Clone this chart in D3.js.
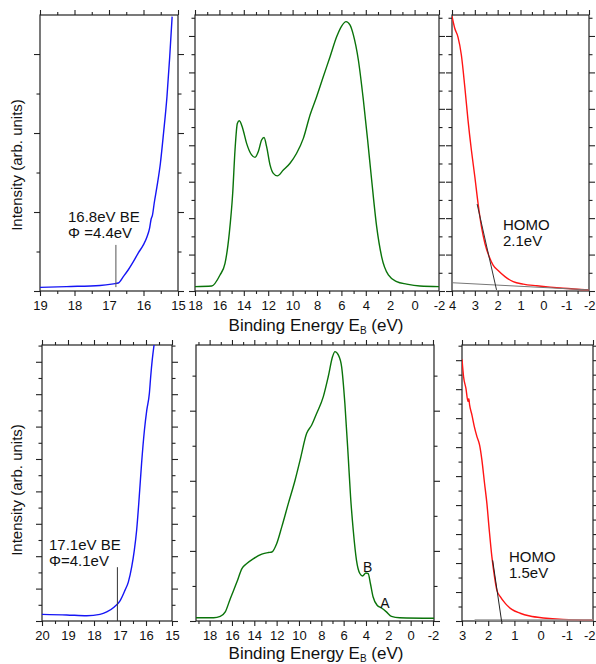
<!DOCTYPE html>
<html>
<head>
<meta charset="utf-8">
<script src="https://cdn.jsdelivr.net/npm/d3@7"></script>
<style>
  html, body { margin: 0; padding: 0; background: #fff; }
  svg { display: block; }
  text { font-family: "Liberation Sans", Arial, sans-serif; fill: #111; }
</style>
</head>
<body>
<svg id="chart" width="596" height="664"></svg>
<script>
// ---- spectra (binding energy in eV, intensity in % of panel height) ----
// upper row: secondary-electron cutoff, valence band, HOMO onset
const cutoffAEnergy = [19, 18.23, 17.26, 16.87, 16.73, 16.58, 16.44, 16.29, 16.15, 16.0, 15.9, 15.82, 15.78, 15.74, 15.69, 15.61, 15.51, 15.42, 15.32, 15.24, 15.17];
const cutoffAIntensity = [1.3, 1.6, 2.0, 2.6, 2.9, 5.3, 7.7, 10.7, 13.8, 16.8, 19.6, 23.0, 26.0, 27.5, 31.8, 37.8, 46.3, 57.1, 70.4, 84.9, 99.4];

const valenceAEnergy = [18, 16.63, 15.95, 15.54, 15.19, 14.91, 14.72, 14.53, 14.37, 14.09, 13.77, 13.36, 13.08, 12.81, 12.54, 12.34, 12.13, 11.85, 11.58, 11.25, 10.76, 10.21, 9.67, 9.12, 8.57, 8.03, 7.48, 6.93, 6.39, 5.98, 5.62, 5.3, 5.02, 4.61, 4.2, 3.85, 3.52, 3.11, 2.7, 2.15, 1.47, 0.65, -0.44, -2];
const valenceAIntensity = [1.6, 1.8, 5.8, 10, 20.9, 35.4, 51.1, 60.7, 61.7, 58.9, 53.5, 49.3, 48.4, 50.5, 54.7, 55.6, 52.3, 45.7, 42.6, 41.7, 43.8, 46.3, 49.9, 55.3, 63.8, 70.4, 77.7, 84.9, 92.1, 96, 97.6, 96.4, 92.8, 83.7, 69.2, 54.7, 40.2, 23.3, 12.4, 5.8, 3.4, 2.5, 1.8, 1.6];

const homoAEnergy = [4, 3.88, 3.74, 3.59, 3.44, 3.3, 3.15, 3.0, 2.86, 2.71, 2.56, 2.37, 2.2, 1.98, 1.68, 1.32, 0.88, 0.29, -0.3, -0.88, -2];
const homoAIntensity = [99.6, 95.2, 92.1, 85.5, 74, 62, 51, 41.4, 31.8, 23.3, 17.3, 12.4, 9.4, 7.4, 5.2, 3.4, 2.5, 1.9, 1.4, 1.0, 0.4];

// lower row
const cutoffBEnergy = [20, 19.05, 18.28, 17.77, 17.51, 17.22, 17.0, 16.81, 16.68, 16.55, 16.45, 16.36, 16.26, 16.17, 16.06, 15.97, 15.87, 15.82, 15.76, 15.69];
const cutoffBIntensity = [2.4, 2.2, 1.9, 2.4, 3.3, 5.1, 7.3, 11.1, 14.1, 19.6, 25.6, 32.9, 45, 57.1, 69.2, 76.4, 82.5, 88.5, 94.6, 100];

const valenceBEnergy = [19.22, 17.64, 17.05, 16.6, 16.15, 15.56, 15.11, 14.67, 14.07, 13.33, 12.73, 12.43, 11.99, 11.54, 10.95, 10.35, 9.9, 9.31, 8.86, 8.42, 7.82, 7.38, 6.99, 6.78, 6.48, 6.18, 5.89, 5.59, 5.38, 5.14, 4.85, 4.55, 4.31, 4.01, 3.8, 3.6, 3.36, 3.0, 2.61, 2.17, 1.72, 0.98, -2.09];
const valenceBIntensity = [1.2, 1.2, 1.7, 3.3, 8.1, 14.1, 19, 20.8, 22.6, 24.2, 24.8, 25, 28.1, 34.1, 42.6, 51, 58.3, 68, 71, 75.2, 81.3, 88.5, 95.8, 97.6, 96.4, 92.1, 78.8, 59.5, 45, 32.9, 22, 17.2, 16.3, 17.4, 17.2, 13.5, 8.7, 5.7, 4.7, 3.3, 1.7, 1.2, 1.0];

const homoBEnergy = [3, 2.94, 2.85, 2.77, 2.74, 2.71, 2.62, 2.53, 2.43, 2.33, 2.24, 2.14, 2.05, 1.96, 1.86, 1.76, 1.67, 1.54, 1.35, 1.1, 0.78, 0.41, -0.1, -0.86, -2];
const homoBIntensity = [94.8, 88.5, 84.3, 79.5, 80.5, 78.3, 74.6, 70.4, 66.8, 63.8, 58.3, 49.9, 42.6, 33, 23.3, 16.1, 11.2, 8.8, 6.4, 4.2, 2.8, 1.8, 1.1, 0.6, 0.4];

// ---- tick labels of the energy axes ----
const cutoffATicks = [19, 18, 17, 16, 15];
const valenceATicks = [18, 16, 14, 12, 10, 8, 6, 4, 2, 0, -2];
const homoATicks = [4, 3, 2, 1, 0, -1, -2];
const cutoffBTicks = [20, 19, 18, 17, 16, 15];
const valenceBTicks = [18, 16, 14, 12, 10, 8, 6, 4, 2, 0, -2];
const homoBTicks = [3, 2, 1, 0, -1, -2];

// ---- annotated values ----
const cutoffAValue = 16.8;   // eV BE, work function 4.4 eV
const cutoffBValue = 17.1;   // eV BE, work function 4.1 eV
const homoAValue = 2.1;      // eV
const homoBValue = 1.5;      // eV
// linear fits used for the HOMO onset: [energy, intensity] end points
const homoATangent = [[2.9, 31.5], [2.05, 0.4]];
const homoABaseline = [[4, 3.0], [-2, 0.4]];
const homoBTangent = [[1.83, 22], [1.49, 0]];
const homoBBaseline = [[2.52, 0.4], [-2, 0.4]];

const BLUE = "#1515f5", GREEN = "#0a730a", RED = "#ff1414";
const WIDTH = 596;

const svg = d3.select("#chart");
const defs = svg.append("defs");

const panels = [
  { id: "ta", x0: 40, x1: 178, y0: 15, y1: 291, dom: [19, 15], ticks: cutoffATicks, minorX: 0.5,
    yMinor: 14.31, E: cutoffAEnergy, I: cutoffAIntensity, color: BLUE },
  { id: "tb", x0: 195, x1: 439, y0: 15, y1: 291, dom: [18, -2], ticks: valenceATicks, minorX: 1,
    yMinor: 6.6, E: valenceAEnergy, I: valenceAIntensity, color: GREEN },
  { id: "tc", x0: 452, x1: 589, y0: 15, y1: 291, dom: [4, -2], ticks: homoATicks, minorX: 0.5,
    yMinor: 6.6, E: homoAEnergy, I: homoAIntensity, color: RED },
  { id: "ba", x0: 42, x1: 172, y0: 345, y1: 621, dom: [20, 15], ticks: cutoffBTicks, minorX: 0.5,
    yMinor: 5.87, E: cutoffBEnergy, I: cutoffBIntensity, color: BLUE },
  { id: "bb", x0: 196, x1: 434, y0: 345, y1: 621, dom: [19.22, -2.09], ticks: valenceBTicks, minorX: 1,
    yMinor: 12.7, E: valenceBEnergy, I: valenceBIntensity, color: GREEN },
  { id: "bc", x0: 462, x1: 593, y0: 345, y1: 621, dom: [3, -2], ticks: homoBTicks, minorX: 0.5,
    yMinor: 5.25, E: homoBEnergy, I: homoBIntensity, color: RED }
];

function range(a, b, step) {
  const lo = Math.min(a, b), hi = Math.max(a, b), out = [];
  const start = Math.ceil(lo / step - 1e-9) * step;
  for (let v = start; v <= hi + 1e-9; v += step) out.push(+v.toFixed(4));
  return out;
}

panels.forEach(p => {
  const x = d3.scaleLinear().domain(p.dom).range([p.x0, p.x1]);
  const y = d3.scaleLinear().domain([0, 100]).range([p.y1, p.y0]);
  p.x = x; p.y = y;
  const g = svg.append("g");

  defs.append("clipPath").attr("id", "clip-" + p.id)
    .append("rect").attr("x", p.x0).attr("y", p.y0)
    .attr("width", p.x1 - p.x0).attr("height", p.y1 - p.y0);

  // energy ticks: long at labelled values, short in between
  const xMinor = range(p.dom[0], p.dom[1], p.minorX).filter(v => !p.ticks.includes(v));
  const yAll = range(0, 100, p.yMinor);
  const yMajor = yAll.filter((v, i) => i % 2 === 0);
  const yMinor = yAll.filter((v, i) => i % 2 === 1);

  const fmt = d => String(d);
  const addAxis = (axis, tx, ty) => {
    const a = g.append("g").attr("transform", `translate(${tx},${ty})`).call(axis);
    a.select(".domain").remove();
    a.selectAll(".tick line").attr("stroke", "#222").attr("stroke-width", 1.1);
    return a;
  };

  const bottom = addAxis(d3.axisBottom(x).tickValues(p.ticks).tickSize(5).tickPadding(5).tickFormat(fmt), 0, p.y1);
  bottom.selectAll("text").attr("font-size", 13).attr("fill", "#111")
    .style("font-family", "'Liberation Sans', Arial, sans-serif");
  // keep a label at the right edge of the page inside the page
  bottom.selectAll(".tick").each(function(d) {
    if (x(d) + 8 > WIDTH) d3.select(this).select("text").attr("text-anchor", "end").attr("x", WIDTH - 1 - x(d));
  });
  addAxis(d3.axisBottom(x).tickValues(xMinor).tickSize(3).tickFormat(""), 0, p.y1);
  addAxis(d3.axisTop(x).tickValues(p.ticks).tickSize(5).tickFormat(""), 0, p.y0);
  addAxis(d3.axisTop(x).tickValues(xMinor).tickSize(3).tickFormat(""), 0, p.y0);
  addAxis(d3.axisLeft(y).tickValues(yMajor).tickSize(6).tickFormat(""), p.x0, 0);
  addAxis(d3.axisLeft(y).tickValues(yMinor).tickSize(3.5).tickFormat(""), p.x0, 0);
  addAxis(d3.axisRight(y).tickValues(yMajor).tickSize(6).tickFormat(""), p.x1, 0);
  addAxis(d3.axisRight(y).tickValues(yMinor).tickSize(3.5).tickFormat(""), p.x1, 0);

  g.append("rect").attr("x", p.x0).attr("y", p.y0)
    .attr("width", p.x1 - p.x0).attr("height", p.y1 - p.y0)
    .attr("fill", "none").attr("stroke", "#222").attr("stroke-width", 1.2);

  const line = d3.line().x(d => x(d[0])).y(d => y(d[1])).curve(d3.curveMonotoneX);
  g.append("path").attr("clip-path", `url(#clip-${p.id})`)
    .datum(d3.zip(p.E, p.I))
    .attr("d", line).attr("fill", "none")
    .attr("stroke", p.color).attr("stroke-width", 1.4).attr("stroke-linejoin", "round");
});

const [pTA, pTB, pTC, pBA, pBB, pBC] = panels;
const straight = d3.line();

function segment(p, pts, color, width) {
  svg.append("path").attr("clip-path", `url(#clip-${p.id})`)
    .attr("d", straight(pts.map(d => [p.x(d[0]), p.y(d[1])])))
    .attr("fill", "none").attr("stroke", color).attr("stroke-width", width);
}

function label(lines, x, y, size) {
  const t = svg.append("text").attr("font-size", size);
  lines.forEach((s, i) => t.append("tspan").attr("x", x).attr("y", y + i * 16).text(s));
}

// cutoff markers
segment(pTA, [[cutoffAValue, 16.7], [cutoffAValue, 1.4]], "#555", 1);
label(["16.8eV BE", "Φ =4.4eV"], 68, 222, 15);
segment(pBA, [[cutoffBValue, 19.5], [cutoffBValue, 0]], "#333", 1);
label(["17.1eV BE", "Φ=4.1eV"], 49, 550, 15);

// HOMO onset fits
segment(pTC, homoABaseline, "#777", 1);
segment(pTC, homoATangent, "#333", 1);
label(["HOMO", `${homoAValue}eV`], 503, 230, 15);
segment(pBC, homoBBaseline, "#999", 1.2);
segment(pBC, homoBTangent, "#222", 1);
label(["HOMO", `${homoBValue}eV`], 509, 562, 15);

// features of the lower valence band
svg.append("text").attr("x", pBB.x(3.85)).attr("y", 572).attr("font-size", 14)
  .attr("text-anchor", "middle").text("B");
svg.append("text").attr("x", pBB.x(2.3)).attr("y", 608).attr("font-size", 14)
  .attr("text-anchor", "middle").text("A");

// axis titles
function energyTitle(baseline) {
  const t = svg.append("text").attr("x", 316).attr("y", baseline).attr("font-size", 17)
    .attr("text-anchor", "middle");
  t.append("tspan").text("Binding Energy E");
  t.append("tspan").attr("font-size", 10).attr("dy", 3).text("B");
  t.append("tspan").attr("dy", -3).text(" (eV)");
}
energyTitle(331);
energyTitle(659);

function intensityTitle(cy) {
  svg.append("text").attr("transform", `translate(22,${cy}) rotate(-90)`)
    .attr("font-size", 15).attr("text-anchor", "middle").text("Intensity (arb. units)");
}
intensityTitle(165);
intensityTitle(490);
</script>
</body>
</html>
